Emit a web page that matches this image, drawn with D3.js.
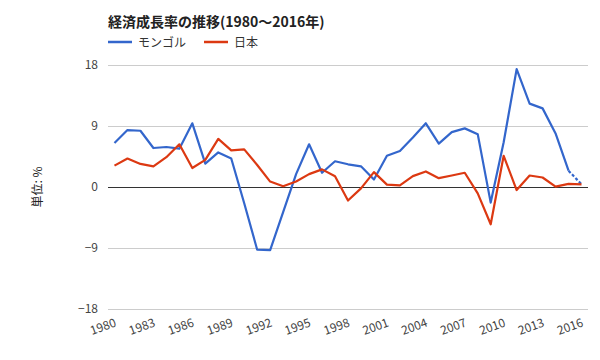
<!DOCTYPE html>
<html><head><meta charset="utf-8">
<script src="https://cdn.jsdelivr.net/npm/d3@7"></script>
<style>body{margin:0;background:#fff;} text{font-family:"Noto Sans CJK JP","Noto Sans",sans-serif;}</style>
</head><body><svg id="c" width="600" height="360"></svg>
<script>
const years = d3.range(1980, 2017);
const mongolia = [6.5,8.4,8.3,5.75,5.9,5.65,9.4,3.45,5.1,4.2,-2.4,-9.25,-9.3,-3.7,1.9,6.3,2.1,3.8,3.35,3.05,1.1,4.6,5.3,7.3,9.4,6.4,8.1,8.65,7.8,-2.3,6.6,17.4,12.3,11.6,7.9,2.4,0.4];
const japan = [3.15,4.2,3.4,3.05,4.4,6.3,2.8,4.0,7.1,5.4,5.55,3.25,0.8,0.1,0.8,1.9,2.6,1.6,-2.0,-0.2,2.2,0.35,0.25,1.6,2.3,1.3,1.7,2.1,-0.95,-5.5,4.6,-0.45,1.7,1.4,0.05,0.45,0.4];
const yTicks = [-18,-9,0,9,18];
const xTickYears = d3.range(1980, 2017, 3);
const estimateFrom = 2015; // Mongolia segment after this year drawn dashed
const seriesNames = ["モンゴル","日本"];
const colors = ["#3366cc","#dc3912"];

const svg = d3.select("#c");
const L = 108, R = 588, T = 65, B = 309;
const x = d3.scalePoint().domain(years).range([L, R]).padding(0.5);
const y = d3.scaleLinear().domain([-18, 18]).range([B, T]);

// title
svg.append("text").attr("x", 108).attr("y", 27).attr("font-size", 14).attr("font-weight", "bold").attr("fill", "#222").text("経済成長率の推移(1980～2016年)");
// legend
const lg = [{x:108, name:seriesNames[0], c:colors[0]}, {x:204, name:seriesNames[1], c:colors[1]}];
lg.forEach(d => {
  svg.append("line").attr("x1", d.x).attr("x2", d.x+24).attr("y1", 42).attr("y2", 42).attr("stroke", d.c).attr("stroke-width", 2.5);
  svg.append("text").attr("x", d.x+30).attr("y", 46.5).attr("font-size", 12).attr("fill", "#333").text(d.name);
});

// grid + y labels
const yAxis = d3.axisLeft(y).tickValues(yTicks).tickSize(-(R-L)).tickPadding(10);
const gy = svg.append("g").attr("transform", `translate(${L},0)`).call(yAxis);
gy.select(".domain").remove();
gy.selectAll(".tick line").attr("stroke", d => d === 0 ? "#333" : "#ccc").attr("stroke-width", 1);
gy.selectAll(".tick text").attr("font-size", 12).attr("fill", "#444").attr("font-family", "Noto Sans, sans-serif");
gy.selectAll(".tick").filter(d => d === 0).raise();

// x labels
const xAxis = d3.axisBottom(x).tickValues(xTickYears).tickSize(0).tickPadding(0);
const gx = svg.append("g").attr("transform", `translate(0,${B})`).call(xAxis);
gx.select(".domain").remove();
gx.selectAll(".tick text").attr("font-size", 12).attr("fill", "#444").attr("font-family", "Noto Sans, sans-serif")
  .attr("text-anchor", "end").attr("dy", 0).attr("y", 0).attr("transform", "translate(2,17) rotate(-20)");

// y title
svg.append("text").attr("transform", `translate(42,${y(0)}) rotate(-90)`).attr("text-anchor", "middle").attr("font-size", 12).attr("fill", "#222").text("単位: %");

const line = d3.line().x(d => x(d[0])).y(d => y(d[1]));
const mData = years.map((yr, i) => [yr, mongolia[i]]);
const jData = years.map((yr, i) => [yr, japan[i]]);

svg.append("path").attr("d", line(mData.filter(d => d[0] <= estimateFrom))).attr("fill", "none").attr("stroke", colors[0]).attr("stroke-width", 2.2).attr("stroke-linejoin", "round");
svg.append("path").attr("d", line(mData.filter(d => d[0] >= estimateFrom))).attr("fill", "none").attr("stroke", colors[0]).attr("stroke-width", 2.2).attr("stroke-dasharray", "3,2");
svg.append("path").attr("d", line(jData)).attr("fill", "none").attr("stroke", colors[1]).attr("stroke-width", 2.2).attr("stroke-linejoin", "round");
</script></body></html>
